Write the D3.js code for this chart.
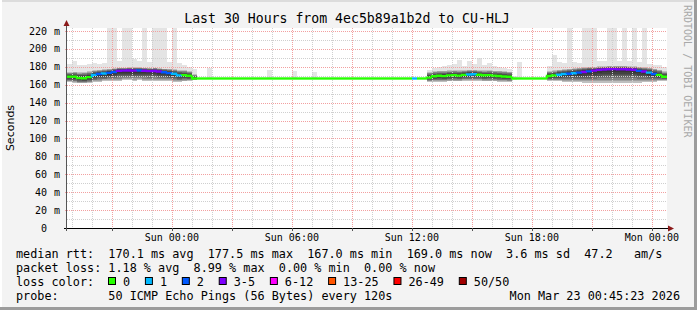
<!DOCTYPE html>
<html><head><meta charset="utf-8">
<script src="https://cdn.jsdelivr.net/npm/d3@7/dist/d3.min.js"></script>
<style>html,body{margin:0;padding:0;background:#f3f3f3;overflow:hidden}svg{display:block}</style>
</head><body><svg id="c" width="697" height="310"></svg>
<script>
// ---------------- DATA ----------------
const chartTitle = "Last 30 Hours from 4ec5b89a1b2d to CU-HLJ";
const yTitle = "Seconds";
const watermark = "RRDTOOL / TOBI OETIKER";
const endTime = "2026-03-23T00:45:23Z";
const spanHours = 30;
const binMinutes = 15;
const yTicks = [0,20,40,60,80,100,120,140,160,180,200,220];
const yMinorTicks = [10,30,50,70,90,110,130,150,170,190,210];
const yUpper = 223.4;

// median rtt (ms) per 15-minute bin
const median = [
 169.0,169.0,167.5,167.2,168.5,171.0,172.0,172.5,173.3,174.2,175.5,175.8,176.0,175.8,175.9,175.6,175.2,175.4,174.8,174.0,173.0,172.3,170.5,170.8,170.0,
 167.0,167.0,167.0,167.0,167.0,167.0,167.0,167.0,167.0,167.0,167.0,167.0,167.0,167.0,167.0,167.0,167.0,167.0,167.0,167.0,167.0,167.0,167.0,167.0,
 167.0,167.0,167.0,167.0,167.0,167.0,167.0,167.0,167.0,167.0,167.0,167.0,167.0,167.0,167.0,167.0,167.0,167.0,167.0,167.0,167.0,167.0,167.0,
 168.0,169.5,170.0,169.6,170.5,170.8,170.2,171.0,171.5,171.8,171.2,170.6,170.8,170.2,169.8,169.3,169.0,
 167.0,167.0,167.0,167.0,167.0,167.0,167.0,
 169.8,170.5,171.2,172.0,172.3,172.8,173.6,174.2,175.0,175.8,176.6,177.0,177.3,177.5,177.2,177.3,177.0,176.8,175.5,174.8,173.5,172.0,171.0,169.0
];
// lost pings (of 50) per bin
const loss = [
 0,0,0,0,0,1,2,1,2,2,3,3,4,3,2,3,4,3,3,2,2,1,1,0,0,
 0,0,0,0,0,0,0,0,0,0,0,0,0,0,0,0,0,0,0,0,0,0,0,0,
 0,0,0,0,0,0,0,0,0,0,0,0,0,0,0,0,0,0,0,0,1,0,0,
 0,0,0,0,0,0,0,0,1,1,0,0,0,0,0,0,0,
 0,0,0,0,0,0,0,
 0,0,1,1,2,1,2,3,2,3,4,3,4,3,4,3,3,4,2,3,1,2,0,0
];
// lower / upper edge of the smoke (ms)
const smokeLo = [
 163,162.5,161.5,161.5,162,163,163.5,164,164,164.5,164.5,165,165,164.5,165,164.5,164.5,164.5,164.5,164,164,163.5,163.5,164,164.5,
 165.5,167,167,167,167,167,167,167,167,167,167,167,167,167,167,167,167,167,167,167,167,167,167,167,
 167,167,167,167,167,167,167,167,167,167,167,167,167,167,167,167,167,167,167,167,167,167,167,
 163.5,163.5,163.5,163.5,164,164,164,164.5,164.5,164.5,164.5,164,164,164,163.5,163.5,163.5,
 166,167,167,167,167,167,167,
 164.5,164.5,164,163.5,163.5,163,163,162.5,162.5,162.5,162.5,162.5,162.5,162.5,162.5,162.5,162.5,162.5,162.5,163,163.5,163.5,164,164.5
];
const smokeHi = [
 174,174.5,174,174.5,175,176,177,177.5,178,178.5,179,179,179.5,179.5,179.5,179,179,179,178.5,178,178,177.5,176.5,176,175,
 172,167,167,167,167,167,167,167,167,167,167,167,167,167,167,167,167,167,167,167,167,167,167,167,
 167,167,167,167,167,167,167,167,167,167,167,167,167,167,167,167,167,167,167,167,167,167,167,
 174,175,175.5,175.5,176,176,176,176.5,176.5,177,176.5,176,176,175.5,175.5,175,174.5,
 168,167,167,167,167,167,167,
 175,176,177,177.5,178,178.5,179,179.5,180,180,180.5,180.5,181,181,181,181,180.5,180.5,180,179.5,179,178,177,175
];
// highest ping per bin (ms)
const pingMax = [
 183,187,182,182,183,184,183,184,240,240,186,240,240,189,186,240,185,240,240,240,185,240,184,182,180,
 178,167,167,178.6,167,167,167,167,167,167,167,167,167,167,167,176,167,167,167,167,175,167,167,167,
 174.5,167,167,167,167,167,167,167,167,167,167,167,167,167,167,167,167,167,167,167,167,167,167,
 176,179,180,181,182,183,187.5,181,186,183,189.5,182,184,181,180,179,178,
 170,185.7,167,167,167,167,167,
 181,193,185,184,240,185,184,240,240,240,186,187,240,240,186,240,186,240,185,240,183,182,182,180
];

const lossBuckets = ["0","1","2","3-5","6-12","13-25","26-49","50/50"];
const lossColors = ["#26ff00","#00b8ff","#0059ff","#7e00ff","#ff00ff","#ff5500","#ff0000","#a10000"];
const lossThresholds = [1,2,3,6,13,26,50];

const rttLine = "median rtt:  170.1 ms avg  177.5 ms max  167.0 ms min  169.0 ms now  3.6 ms sd  47.2   am/s";
const lossLine = "packet loss: 1.18 % avg  8.99 % max  0.00 % min  0.00 % now";
const lossLabel = "loss color:";
const probeLine = "probe:       50 ICMP Echo Pings (56 Bytes) every 120s";
const stampText = "Mon Mar 23 00:45:23 2026";

// ---------------- DRAW ----------------
const W = 697, H = 310;
const P = {left:67, right:667, top:28, bottom:228};
const mono = "'DejaVu Sans Mono', monospace";
const keep = s => s.replace(/ /g, "\u00a0");
const svg = d3.select("#c");

svg.append("rect").attr("width",W).attr("height",H).attr("fill","#f3f3f3");
// frame shading
svg.append("rect").attr("x",0).attr("y",0).attr("width",W).attr("height",2).attr("fill","#dcdcdc");
svg.append("rect").attr("x",0).attr("y",0).attr("width",2).attr("height",H).attr("fill","#ffffff");
svg.append("rect").attr("x",W-3).attr("y",0).attr("width",3).attr("height",H).attr("fill","#9c9c9c");
svg.append("rect").attr("x",0).attr("y",H-3).attr("width",W).attr("height",3).attr("fill","#9c9c9c");

const end = new Date(endTime);
const start = d3.utcHour.offset(end, -spanHours);
const x = d3.scaleUtc().domain([start,end]).range([P.left,P.right]);
const y = d3.scaleLinear().domain([0,yUpper]).range([P.bottom,P.top]);
const lossColor = d3.scaleThreshold().domain(lossThresholds).range(lossColors);

svg.append("rect").attr("x",P.left).attr("y",P.top).attr("width",P.right-P.left).attr("height",P.bottom-P.top).attr("fill","#fff");

svg.append("clipPath").attr("id","clip").append("rect")
  .attr("x",P.left).attr("y",P.top).attr("width",P.right-P.left).attr("height",P.bottom-P.top);

const bins = median.map((m,i)=>({
  t0:d3.utcMinute.offset(start,i*binMinutes), t1:d3.utcMinute.offset(start,(i+1)*binMinutes),
  med:m, loss:loss[i], lo:smokeLo[i], hi:smokeHi[i], max:pingMax[i]}));

const data = svg.append("g").attr("clip-path","url(#clip)");
// outer (max ping) spikes
data.selectAll("rect.sp").data(bins).join("rect").attr("class","sp")
  .attr("x",d=>x(d.t0)).attr("width",d=>x(d.t1)-x(d.t0))
  .attr("y",d=>y(d.max)).attr("height",d=>Math.max(0,y(d.lo)-y(d.max)))
  .attr("fill","#e4e4e4").attr("shape-rendering","crispEdges");
// layered smoke
const N = 9;
for (let k=N;k>=1;k--){
  data.selectAll("rect.sm"+k).data(bins).join("rect").attr("class","sm"+k)
    .attr("x",d=>x(d.t0)).attr("width",d=>x(d.t1)-x(d.t0))
    .attr("y",d=>y(d.med+(d.hi-d.med)*k/N))
    .attr("height",d=>Math.max(0,y(d.med-(d.med-d.lo)*k/N)-y(d.med+(d.hi-d.med)*k/N)))
    .attr("fill","#000").attr("fill-opacity",0.16).attr("shape-rendering","crispEdges");
}

// grid
const grid = svg.append("g");
const hours = x.ticks(d3.utcHour.every(1));
const major = x.ticks(d3.utcHour.every(3));
const majSet = new Set(major.map(d=>+d));
grid.selectAll("line.vmin").data(hours.filter(d=>!majSet.has(+d))).join("line")
  .attr("x1",d=>Math.round(x(d))+0.5).attr("x2",d=>Math.round(x(d))+0.5)
  .attr("y1",P.top).attr("y2",P.bottom).attr("stroke","#cfcfcf").attr("stroke-dasharray","1,1");
grid.selectAll("line.hmin").data(yMinorTicks).join("line")
  .attr("x1",P.left).attr("x2",P.right)
  .attr("y1",d=>Math.round(y(d))+0.5).attr("y2",d=>Math.round(y(d))+0.5)
  .attr("stroke","#cfcfcf").attr("stroke-dasharray","1,1");
grid.selectAll("line.vmaj").data(major).join("line")
  .attr("x1",d=>Math.round(x(d))+0.5).attr("x2",d=>Math.round(x(d))+0.5)
  .attr("y1",P.top).attr("y2",P.bottom+2).attr("stroke","#f2a0a0").attr("stroke-dasharray","1,1");
grid.selectAll("line.hmaj").data(yTicks.filter(d=>d>0)).join("line")
  .attr("x1",P.left-2).attr("x2",P.right)
  .attr("y1",d=>Math.round(y(d))+0.5).attr("y2",d=>Math.round(y(d))+0.5)
  .attr("stroke","#f2a0a0").attr("stroke-dasharray","1,1");

// median line, coloured by loss
const ml = svg.append("g").attr("clip-path","url(#clip)");
bins.forEach((d,i)=>{
  const prev = i>0 ? bins[i-1].med : d.med;
  ml.append("path")
    .attr("d",`M${x(d.t0)},${y(prev)}L${x(d.t0)},${y(d.med)}L${x(d.t1)},${y(d.med)}`)
    .attr("fill","none").attr("stroke",lossColor(d.loss)).attr("stroke-width",2.4);
});

// axes
svg.append("line").attr("x1",P.left-3).attr("x2",P.right+1).attr("y1",P.bottom+0.5).attr("y2",P.bottom+0.5).attr("stroke","#000");
svg.append("line").attr("x1",P.left-0.5).attr("x2",P.left-0.5).attr("y1",P.bottom+3).attr("y2",P.top-3).attr("stroke","#555");
svg.append("path").attr("d",`M${P.left-3.5},${P.top-2}L${P.left+2.5},${P.top-2}L${P.left-0.5},${P.top-8}Z`).attr("fill","#8b1a1a");
svg.append("path").attr("d",`M${P.right+1},${P.bottom-2.5}L${P.right+1},${P.bottom+3.5}L${P.right+7},${P.bottom+0.5}Z`).attr("fill","#8b1a1a");
svg.selectAll("line.xt").data(major).join("line")
  .attr("x1",d=>Math.round(x(d))+0.5).attr("x2",d=>Math.round(x(d))+0.5)
  .attr("y1",P.bottom).attr("y2",P.bottom+3).attr("stroke","#555");

// y labels
const yl = svg.append("g").attr("font-family",mono).attr("font-size","10px").attr("fill","#000");
yl.selectAll("text.n").data(yTicks).join("text")
  .attr("x",47).attr("y",d=>y(d)+3.5).attr("text-anchor","end").text(d=>d);
yl.selectAll("text.u").data(yTicks.filter(d=>d>0)).join("text")
  .attr("x",54).attr("y",d=>y(d)+3.5).text("m");

// x labels
svg.append("g").attr("font-family",mono).attr("font-size","10px").attr("fill","#000")
  .selectAll("text").data(x.ticks(d3.utcHour.every(6))).join("text")
  .attr("x",d=>x(d)).attr("y",241).attr("text-anchor","middle").text(d3.utcFormat("%a %H:%M"));

// titles
svg.append("text").attr("x",347).attr("y",23).attr("text-anchor","middle")
  .attr("font-family",mono).attr("font-size","13.2px").attr("fill","#000").text(chartTitle);
svg.append("text").attr("transform","translate(14,128) rotate(-90)").attr("text-anchor","middle")
  .attr("font-family","'DejaVu Sans', sans-serif").attr("font-size","11px").attr("fill","#000").text(yTitle);
svg.append("text").attr("transform","translate(684,5) rotate(90)").attr("text-anchor","start")
  .attr("font-family",mono).attr("font-size","10px").attr("fill","#a8a8a8").text(watermark);

// legend
const lg = svg.append("g").attr("font-family",mono).attr("font-size","11.8px").attr("fill","#000");
lg.append("text").attr("x",16).attr("y",258).text(keep(rttLine));
lg.append("text").attr("x",16).attr("y",272).text(keep(lossLine));
lg.append("text").attr("x",16).attr("y",286).text(keep(lossLabel));
lg.append("text").attr("x",16).attr("y",300).text(keep(probeLine));
lg.append("text").attr("x",680).attr("y",300).attr("text-anchor","end").text(keep(stampText));
const cw = 7.11;
let bx = 108;
lossBuckets.forEach((b,i)=>{
  lg.append("rect").attr("x",bx+0.5).attr("y",277.5).attr("width",7).attr("height",7)
    .attr("fill",lossColors[i]).attr("stroke","#000").attr("stroke-width",1);
  lg.append("text").attr("x",bx+15).attr("y",286).text(b);
  bx = bx + 15 + b.length*cw + 14.8;
});
</script></body></html>
